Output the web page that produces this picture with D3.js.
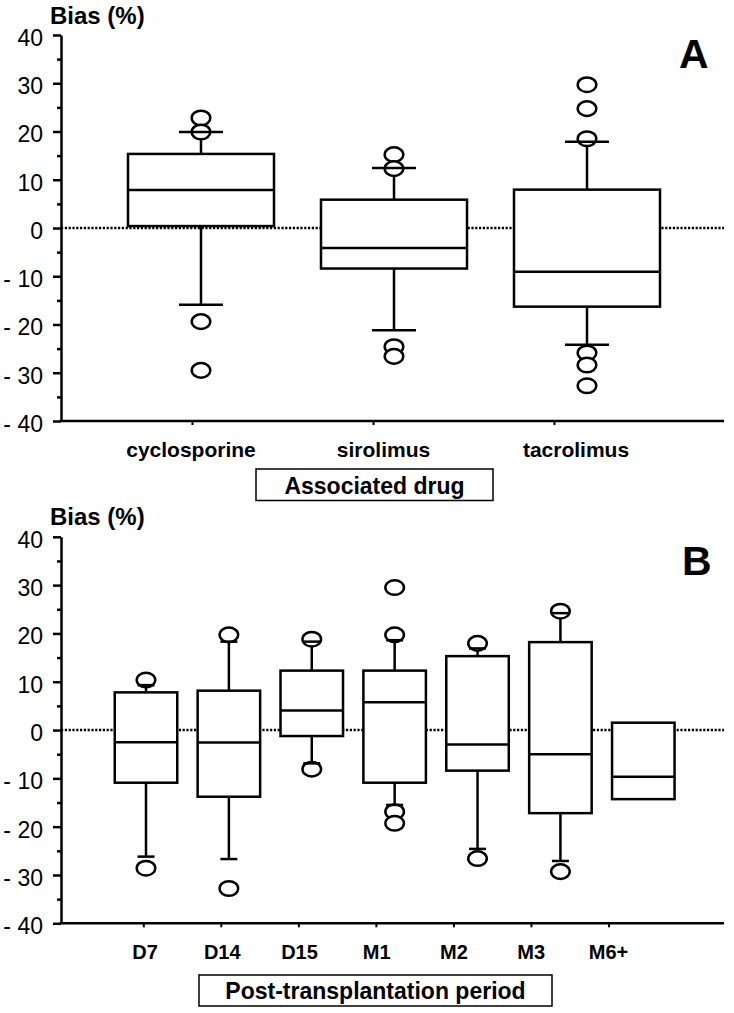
<!DOCTYPE html>
<html><head><meta charset="utf-8">
<script src="https://cdn.jsdelivr.net/npm/d3@7"></script>
<style>body{margin:0;background:#fff}svg{display:block}</style>
</head><body>
<svg id="c" width="734" height="1013"></svg>
<script>
// ---- Data ----
const yTickValues = [40, 30, 20, 10, 0, -10, -20, -30, -40];
const yTickLabels = ["40", "30", "20", "10", "0", "- 10", "- 20", "- 30", "- 40"];
const yMinorValues = [35, 25, 15, 5, -5, -15, -25, -35];

const drugCategories = ["cyclosporine", "sirolimus", "tacrolimus"];
const drugQ1 = [0.4, -8.4, -16.3];
const drugMedian = [7.9, -4.15, -9.07];
const drugQ3 = [15.35, 5.87, 7.95];
const drugWhiskerLow = [-15.9, -21.2, -24.2];
const drugWhiskerHigh = [19.9, 12.45, 17.9];
const drugOutliers = [[22.8, 19.9, -19.4, -29.5], [15.2, 12.3, -24.6, -26.6], [29.7, 24.75, 18.5, -25.9, -28.4, -32.7]];

const periodCategories = ["D7", "D14", "D15", "M1", "M2", "M3", "M6+"];
const periodQ1 = [-10.9, -13.8, -1.24, -10.9, -8.4, -17.2, -14.3];
const periodMedian = [-2.55, -2.6, 4.07, 5.73, -2.97, -5.03, -9.66];
const periodQ3 = [7.8, 8.15, 12.3, 12.3, 15.3, 18.2, 1.52];
const periodWhiskerLow = [-26.2, -26.7, -6.9, -15.5, -24.6, -27.1, null];
const periodWhiskerHigh = [9.3, 18.3, 18.3, 18.6, 16.9, 24.2, null];
const periodOutliers = [[10.35, -28.6], [19.7, -32.8], [18.8, -8.1], [29.5, 19.7, -16.9, -19.3], [17.95, -26.6], [24.6, -29.3], []];

const svg = d3.select("#c");
const FONT = "'Liberation Sans', Arial, Helvetica, sans-serif";
const LW = 2.5;

function panel(cfg) {
  const g = svg.append("g");
  const y = d3.scaleLinear().domain([-40, 40]).range([cfg.yBottom, cfg.yTop]);
  const xBox = d3.scalePoint().domain(cfg.cats).range(cfg.boxRange);
  const xTick = d3.scalePoint().domain(cfg.cats).range(cfg.tickRange);
  const xLab = d3.scalePoint().domain(cfg.cats).range(cfg.labelRange);

  // zero reference line (dotted)
  g.append("line").attr("x1", cfg.xLeft).attr("x2", cfg.xRight)
    .attr("y1", y(0)).attr("y2", y(0))
    .attr("stroke", "#000").attr("stroke-width", 2.5).attr("stroke-dasharray", "2.2,1.6");

  // Boxes
  const data = cfg.cats.map((c, i) => ({
    c, q1: cfg.q1[i], med: cfg.med[i], q3: cfg.q3[i],
    lo: cfg.lo[i], hi: cfg.hi[i], out: cfg.out[i]
  }));
  const bg = g.selectAll("g.box").data(data).join("g").attr("class", "box");
  const bw = cfg.boxW, cw = cfg.capW;
  // whiskers
  bg.filter(d => d.hi != null).append("line")
    .attr("x1", d => xBox(d.c)).attr("x2", d => xBox(d.c))
    .attr("y1", d => y(d.q3)).attr("y2", d => y(d.hi))
    .attr("stroke", "#000").attr("stroke-width", LW);
  bg.filter(d => d.lo != null).append("line")
    .attr("x1", d => xBox(d.c)).attr("x2", d => xBox(d.c))
    .attr("y1", d => y(d.q1)).attr("y2", d => y(d.lo))
    .attr("stroke", "#000").attr("stroke-width", LW);
  // outliers
  bg.selectAll("ellipse").data(d => d.out.map(v => ({ c: d.c, v }))).join("ellipse")
    .attr("cx", d => xBox(d.c)).attr("cy", d => y(d.v))
    .attr("rx", 9.3).attr("ry", 7.3)
    .attr("fill", "#fff").attr("stroke", "#000").attr("stroke-width", LW);
  // caps
  bg.filter(d => d.hi != null).append("line")
    .attr("x1", d => xBox(d.c) - cw / 2).attr("x2", d => xBox(d.c) + cw / 2)
    .attr("y1", d => y(d.hi)).attr("y2", d => y(d.hi))
    .attr("stroke", "#000").attr("stroke-width", LW);
  bg.filter(d => d.lo != null).append("line")
    .attr("x1", d => xBox(d.c) - cw / 2).attr("x2", d => xBox(d.c) + cw / 2)
    .attr("y1", d => y(d.lo)).attr("y2", d => y(d.lo))
    .attr("stroke", "#000").attr("stroke-width", LW);
  // box
  bg.append("rect")
    .attr("x", d => xBox(d.c) - bw / 2).attr("width", bw)
    .attr("y", d => y(d.q3)).attr("height", d => y(d.q1) - y(d.q3))
    .attr("fill", "#fff").attr("stroke", "#000").attr("stroke-width", LW);
  bg.append("line")
    .attr("x1", d => xBox(d.c) - bw / 2).attr("x2", d => xBox(d.c) + bw / 2)
    .attr("y1", d => y(d.med)).attr("y2", d => y(d.med))
    .attr("stroke", "#000").attr("stroke-width", LW);

  // Y axis
  const yAxis = d3.axisLeft(y).tickValues(yTickValues).tickSize(8).tickSizeOuter(0).tickPadding(10)
    .tickFormat((d, i) => yTickLabels[i]);
  const ya = g.append("g").attr("transform", `translate(${cfg.xLeft},0)`).call(yAxis);
  ya.select(".domain").attr("stroke-width", LW);
  ya.selectAll(".tick line").attr("stroke-width", LW);
  ya.selectAll(".tick text").attr("font-family", FONT).attr("font-size", 23).attr("dy", "0.45em").attr("fill", "#000");
  const yMinor = d3.axisLeft(y).tickValues(yMinorValues).tickSize(4).tickSizeOuter(0).tickFormat("");
  const ym = g.append("g").attr("transform", `translate(${cfg.xLeft},0)`).call(yMinor);
  ym.select(".domain").remove();
  ym.selectAll(".tick line").attr("stroke-width", LW);

  // X axis
  g.append("line").attr("x1", cfg.xLeft - 1.25).attr("x2", cfg.xRight)
    .attr("y1", y(-40)).attr("y2", y(-40)).attr("stroke", "#000").attr("stroke-width", LW);
  const xAxis = d3.axisBottom(xTick).tickSize(4).tickSizeOuter(0).tickFormat("");
  const xa = g.append("g").attr("transform", `translate(0,${y(-40)})`).call(xAxis);
  xa.select(".domain").remove();
  xa.selectAll(".tick line").attr("stroke-width", 2);

  // Category labels
  g.selectAll("text.cat").data(cfg.cats).join("text").attr("class", "cat")
    .attr("x", d => xLab(d)).attr("y", cfg.labelY)
    .attr("text-anchor", "middle").attr("font-family", FONT).attr("font-weight", "bold")
    .attr("font-size", cfg.labelSize).text(d => d);

  // Y title
  g.append("text").attr("x", 50).attr("y", cfg.titleY).attr("font-family", FONT)
    .attr("font-weight", "bold").attr("font-size", 24).text("Bias (%)");

  // Panel letter
  g.append("text").attr("x", cfg.letterX).attr("y", cfg.letterY).attr("font-family", FONT)
    .attr("font-weight", "bold").attr("font-size", 41).text(cfg.letter);

  // X title box
  g.append("rect").attr("x", cfg.boxTitle[0]).attr("y", cfg.boxTitle[1])
    .attr("width", cfg.boxTitle[2]).attr("height", cfg.boxTitle[3])
    .attr("fill", "none").attr("stroke", "#000").attr("stroke-width", 1.5);
  g.append("text").attr("x", cfg.boxTitle[0] + cfg.boxTitle[2] / 2).attr("y", cfg.boxTitle[1] + cfg.boxTitle[3] - 7)
    .attr("text-anchor", "middle").attr("font-family", FONT).attr("font-weight", "bold")
    .attr("font-size", 23).text(cfg.xTitle);
}

panel({
  cats: drugCategories, q1: drugQ1, med: drugMedian, q3: drugQ3,
  lo: drugWhiskerLow, hi: drugWhiskerHigh, out: drugOutliers,
  yTop: 35, yBottom: 421, xLeft: 61, xRight: 724,
  boxRange: [201, 587], tickRange: [192, 554], labelRange: [191, 576],
  boxW: 146, capW: 44, labelY: 456.5, labelSize: 21,
  titleY: 24, letter: "A", letterX: 679, letterY: 68,
  boxTitle: [256, 469, 237, 31.5], xTitle: "Associated drug"
});

panel({
  cats: periodCategories, q1: periodQ1, med: periodMedian, q3: periodQ3,
  lo: periodWhiskerLow, hi: periodWhiskerHigh, out: periodOutliers,
  yTop: 536.8, yBottom: 923.3, xLeft: 61, xRight: 724,
  boxRange: [146, 643.3], tickRange: [143.3, 608.5], labelRange: [145, 608.5],
  boxW: 62.5, capW: 17, labelY: 958.5, labelSize: 20,
  titleY: 525, letter: "B", letterX: 682, letterY: 575,
  boxTitle: [199, 975, 353, 31], xTitle: "Post-transplantation period"
});
</script>
</body></html>
